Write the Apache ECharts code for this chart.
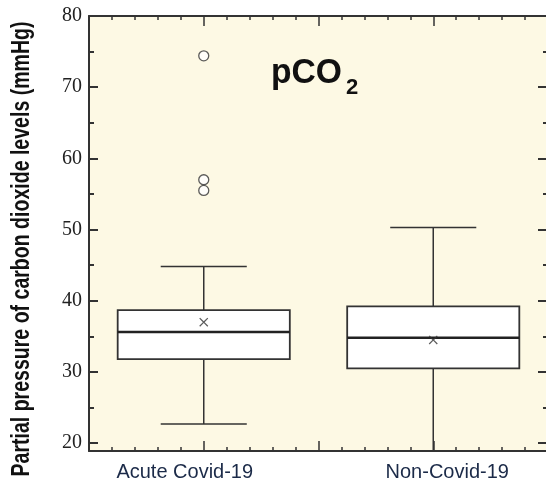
<!DOCTYPE html>
<html>
<head>
<meta charset="utf-8">
<script src="https://cdn.jsdelivr.net/npm/echarts@6/dist/echarts.min.js"></script>
<style>
html,body{margin:0;padding:0;background:#ffffff;}
#chart{width:546px;height:483px;}
</style>
</head>
<body>
<div id="chart"></div>
<script>
// ---- data ----
const categories = ['Acute Covid-19', 'Non-Covid-19'];
const whiskerLow  = [22.7, 18.0];
const q1          = [31.8, 30.5];
const median      = [35.6, 34.8];
const q3          = [38.7, 39.2];
const whiskerHigh = [44.8, 50.3];
const means       = [37.0, 34.5];
const outlierGroup  = [0, 0, 0];
const outlierValues = [74.4, 57.0, 55.5];
const yMajorTicks = [20, 30, 40, 50, 60, 70, 80];
const yMinorTicks = [25, 35, 45, 55, 65, 75];
const yAxisTitle = 'Partial pressure of carbon dioxide levels (mmHg)';
const chartTitleMain = 'pCO';
const chartTitleSub = '2';

// ---- derived series data ----
const boxData = categories.map((c, i) => [i + 0.5, whiskerLow[i], q1[i], median[i], q3[i], whiskerHigh[i]]);
const meanData = categories.map((c, i) => [i + 0.5, means[i]]);
const outlierData = outlierGroup.map((g, k) => [g + 0.5, outlierValues[k]]);

function measure(text, font) {
  const ctx = document.createElement('canvas').getContext('2d');
  ctx.font = font;
  return ctx.measureText(text).width;
}
const yTitleFont = 'bold 25px "Liberation Sans"';
const yTitleScale = 455 / measure(yAxisTitle, yTitleFont);
const titleFont = 'bold 35px "Liberation Sans"';
const titleScale = 71 / measure(chartTitleMain, titleFont);

const AX = '#333';
const yMin = 18.9, yMax = 80;

const chart = echarts.init(document.getElementById('chart'), null, {renderer: 'canvas'});

function yAx(pos, ticks, len, labels, line) {
  return {
    type: 'value', min: yMin, max: yMax, position: pos, gridIndex: 0,
    axisLine: {show: line, lineStyle: {color: AX, width: 2}},
    axisTick: {show: true, inside: true, length: len, customValues: ticks, lineStyle: {color: AX, width: 2}},
    axisLabel: labels ? {show: true, customValues: ticks, fontFamily: '"Liberation Serif", serif', fontSize: 20, color: '#222', margin: 7} : {show: false},
    splitLine: {show: false},
    minorTick: {show: false}
  };
}
function xAx(pos, labels) {
  return {
    type: 'value', min: 0, max: 2, interval: 0.5, position: pos, gridIndex: 0,
    axisLine: {show: true, onZero: false, lineStyle: {color: AX, width: 2}},
    axisTick: {show: true, inside: true, length: 10, lineStyle: {color: AX, width: 1.5}},
    minorTick: {show: true, splitNumber: 5, length: 4, lineStyle: {color: AX, width: 1.5}},
    splitLine: {show: false},
    axisLabel: labels ? {
      show: true, margin: 11, showMinLabel: true, showMaxLabel: true,
      formatter: function (v) {
        const i = Math.round(v - 0.5);
        if (Math.abs(v - 0.5 - i) > 1e-6 || i < 0 || i >= categories.length) return '';
        return '{c' + i + '|' + categories[i] + '}';
      },
      rich: {
        c0: {fontFamily: '"Liberation Sans"', fontSize: 20, color: '#1b2a48', padding: [0, 38, 0, 0]},
        c1: {fontFamily: '"Liberation Sans"', fontSize: 20, color: '#1b2a48', padding: [0, 0, 0, 28]}
      }
    } : {show: false}
  };
}

const option = {
  backgroundColor: '#ffffff',
  animation: false,
  grid: {left: 89, right: -2, top: 16, bottom: 32, show: true, backgroundColor: '#FDF9E4', borderWidth: 0, containLabel: false, outerBoundsMode: 'none'},
  xAxis: [xAx('bottom', true), xAx('top', false)],
  yAxis: [
    yAx('left', yMajorTicks, 9, true, true),
    yAx('left', yMinorTicks, 5, false, false),
    yAx('right', yMajorTicks, 10, false, true),
    yAx('right', yMinorTicks, 5, false, false)
  ],
  series: [
    {
      type: 'custom', xAxisIndex: 0, yAxisIndex: 0, clip: true,
      data: boxData,
      encode: {x: 0, y: [1, 2, 3, 4, 5]},
      renderItem: function (params, api) {
        const x = api.value(0);
        const lo = api.coord([x, api.value(1)]);
        const b1 = api.coord([x, api.value(2)]);
        const md = api.coord([x, api.value(3)]);
        const b3 = api.coord([x, api.value(4)]);
        const hi = api.coord([x, api.value(5)]);
        const bw = api.size([0.75, 0])[0];
        const cw = api.size([0.375, 0])[0];
        const cx = lo[0];
        const ln = {stroke: '#333', lineWidth: 1.5};
        return {
          type: 'group',
          children: [
            {type: 'line', shape: {x1: cx, y1: hi[1], x2: cx, y2: b3[1]}, style: ln},
            {type: 'line', shape: {x1: cx, y1: b1[1], x2: cx, y2: lo[1]}, style: ln},
            {type: 'line', shape: {x1: cx - cw / 2, y1: hi[1], x2: cx + cw / 2, y2: hi[1]}, style: ln},
            {type: 'line', shape: {x1: cx - cw / 2, y1: lo[1], x2: cx + cw / 2, y2: lo[1]}, style: ln},
            {type: 'rect', shape: {x: cx - bw / 2, y: b3[1], width: bw, height: b1[1] - b3[1]}, style: {fill: '#ffffff', stroke: '#333', lineWidth: 1.8}},
            {type: 'line', shape: {x1: cx - bw / 2, y1: md[1], x2: cx + bw / 2, y2: md[1]}, style: {stroke: '#222', lineWidth: 2.5}}
          ]
        };
      },
      z: 2
    },
    {
      type: 'scatter', xAxisIndex: 0, yAxisIndex: 0,
      data: meanData,
      symbol: 'path://M0,1L1,0L5,4L9,0L10,1L6,5L10,9L9,10L5,6L1,10L0,9L4,5Z',
      symbolSize: 9,
      itemStyle: {color: '#333'},
      z: 5
    },
    {
      type: 'scatter', xAxisIndex: 0, yAxisIndex: 0,
      data: outlierData,
      symbol: 'circle', symbolSize: 10,
      itemStyle: {color: '#ffffff', borderColor: '#333', borderWidth: 1.3},
      z: 5
    }
  ],
  graphic: [
    {
      type: 'text', x: 22, y: 249, rotation: Math.PI / 2, scaleX: yTitleScale,
      style: {text: yAxisTitle, font: yTitleFont, fill: '#111', textAlign: 'center', textVerticalAlign: 'middle', align: 'center', verticalAlign: 'middle'}
    },
    {
      type: 'text', x: 271, y: 73, scaleX: titleScale,
      style: {text: chartTitleMain, font: titleFont, fill: '#111', textAlign: 'left', textVerticalAlign: 'middle', align: 'left', verticalAlign: 'middle'}
    },
    {
      type: 'text', x: 352, y: 88,
      style: {text: chartTitleSub, font: 'bold 22px "Liberation Sans"', fill: '#111', textAlign: 'center', textVerticalAlign: 'middle', align: 'center', verticalAlign: 'middle'}
    }
  ]
};
chart.setOption(option);
</script>
</body>
</html>
